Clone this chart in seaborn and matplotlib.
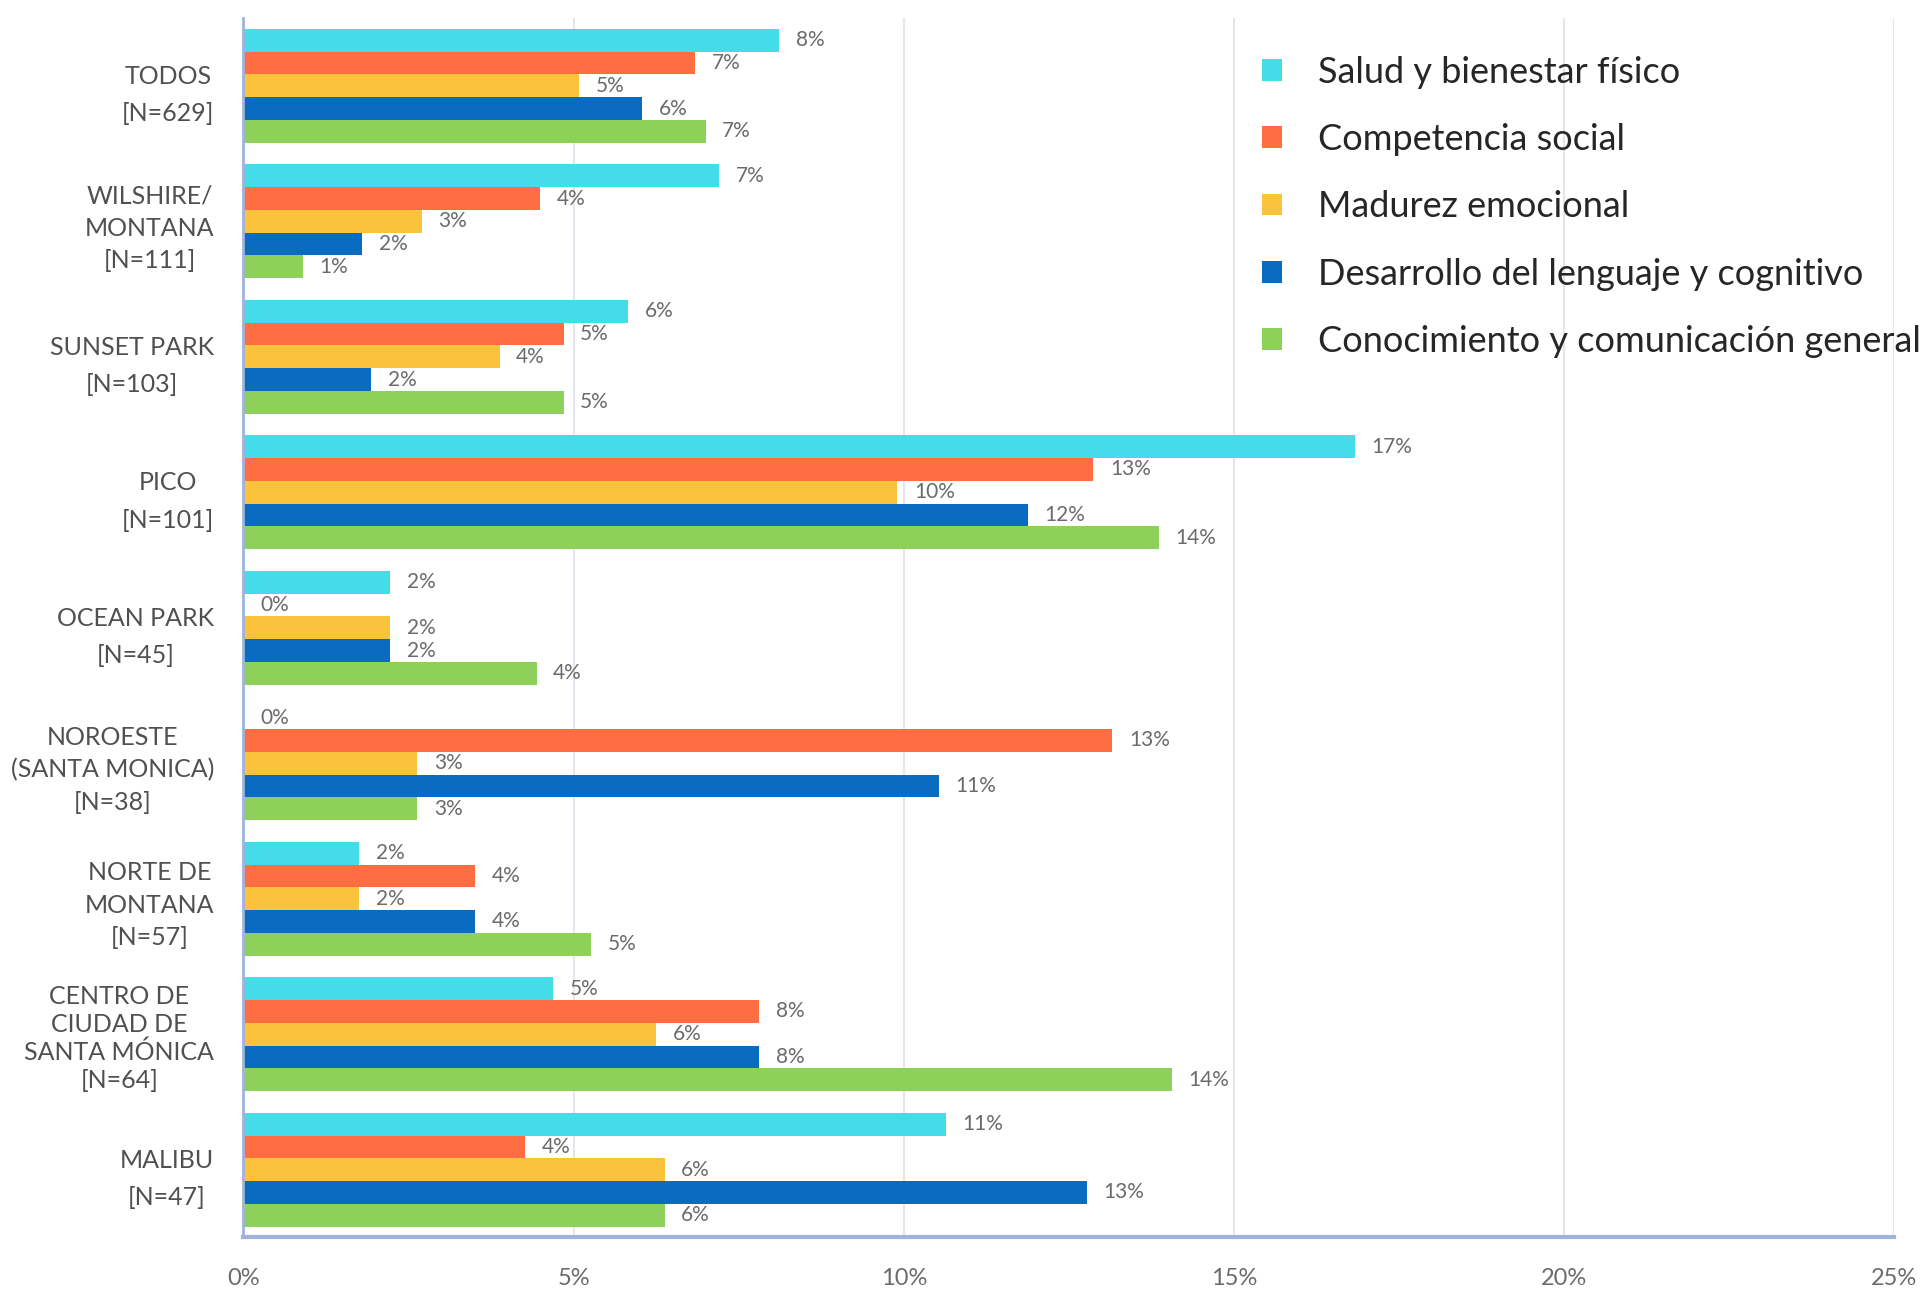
import matplotlib
matplotlib.use("Agg")
import matplotlib.pyplot as plt
from matplotlib.patches import Patch
from matplotlib.ticker import FuncFormatter, MultipleLocator
import numpy as np
import pandas as pd
import seaborn as sns

# Communities (top to bottom) and their sample sizes
communities = [
    "TODOS\n[N=629]",
    "WILSHIRE/\nMONTANA\n[N=111]",
    "SUNSET PARK\n[N=103]",
    "PICO\n[N=101]",
    "OCEAN PARK\n[N=45]",
    "NOROESTE\n(SANTA MONICA)\n[N=38]",
    "NORTE DE\nMONTANA\n[N=57]",
    "CENTRO DE\nCIUDAD DE\nSANTA MÓNICA\n[N=64]",
    "MALIBU\n[N=47]",
]

domains = [
    "Salud y bienestar físico",
    "Competencia social",
    "Madurez emocional",
    "Desarrollo del lenguaje y cognitivo",
    "Conocimiento y comunicación general",
]

# Percentage of children vulnerable in each domain, per community
salud = [8.11, 7.21, 5.83, 16.83, 2.22, 0.00, 1.75, 4.69, 10.64]
social = [6.84, 4.50, 4.85, 12.87, 0.00, 13.16, 3.51, 7.81, 4.26]
emocional = [5.09, 2.70, 3.88, 9.90, 2.22, 2.63, 1.75, 6.25, 6.38]
lenguaje = [6.04, 1.80, 1.94, 11.88, 2.22, 10.53, 3.51, 7.81, 12.77]
conocimiento = [7.00, 0.90, 4.85, 13.86, 4.44, 2.63, 5.26, 14.06, 6.38]

palette = ["#45DCE9", "#FF6E42", "#FBC33B", "#0A6CC0", "#8DD05A"]

series = [salud, social, emocional, lenguaje, conocimiento]
df = pd.DataFrame({
    "comunidad": np.repeat([communities], len(domains), axis=0).ravel(),
    "dominio": np.repeat(domains, len(communities)),
    "pct": np.concatenate(series),
})

sns.set_theme(style="white")
plt.rcParams["font.family"] = ["Lato", "DejaVu Sans"]

fig = plt.figure(figsize=(19.31, 12.89), dpi=100)
ax = fig.add_axes([0.126, 0.040, 0.855, 0.946])

sns.barplot(
    data=df, y="comunidad", x="pct", hue="dominio",
    order=communities, hue_order=domains, palette=palette,
    orient="h", width=0.84, linewidth=0, saturation=1,
    errorbar=None, legend=False, ax=ax,
)

for cont in ax.containers:
    ax.bar_label(cont, labels=[f"{v:.0f}%" for v in cont.datavalues],
                 padding=12, fontsize=15, color="#6b6b6b")

ax.set_xlim(0, 25)
ax.set_ylim(len(communities) - 0.5, -0.5)
ax.xaxis.set_major_locator(MultipleLocator(5))
ax.xaxis.set_major_formatter(FuncFormatter(lambda v, _: f"{v:.0f}%"))
ax.grid(axis="x", color="#e3e6ee", linewidth=1.5)
ax.set_axisbelow(True)
ax.set_xlabel("")
ax.set_ylabel("")

spine_col = "#9fb3dc"
for side in ("top", "right"):
    ax.spines[side].set_visible(False)
ax.spines["left"].set_color(spine_col)
ax.spines["left"].set_linewidth(2)
ax.spines["bottom"].set_color(spine_col)
ax.spines["bottom"].set_linewidth(3)

ax.tick_params(axis="x", colors=spine_col, direction="in", length=10, width=1.5,
               labelsize=17, labelcolor="#6b6b6b", pad=22)
ax.tick_params(axis="y", length=0, labelsize=18, labelcolor="#505050", pad=21)
ax.set_yticks(np.arange(-0.5, len(communities)), minor=True)
ax.tick_params(axis="y", which="minor", direction="inout", length=12, width=2,
               color=spine_col)
spacing_by_lines = {2: 1.75, 3: 1.5, 4: 1.25}
for lab in ax.get_yticklabels():
    lab.set_multialignment("center")
    lab.set_linespacing(spacing_by_lines[lab.get_text().count("\n") + 1])

handles = [Patch(facecolor=c, edgecolor="none") for c in palette]
fig.legend(handles, domains, loc="upper left", bbox_to_anchor=(0.646, 0.968),
           frameon=False, fontsize=26, handlelength=0.55, handleheight=0.55,
           handletextpad=1.0, labelspacing=0.95, borderaxespad=0)

fig.savefig("out.png", dpi=100)
